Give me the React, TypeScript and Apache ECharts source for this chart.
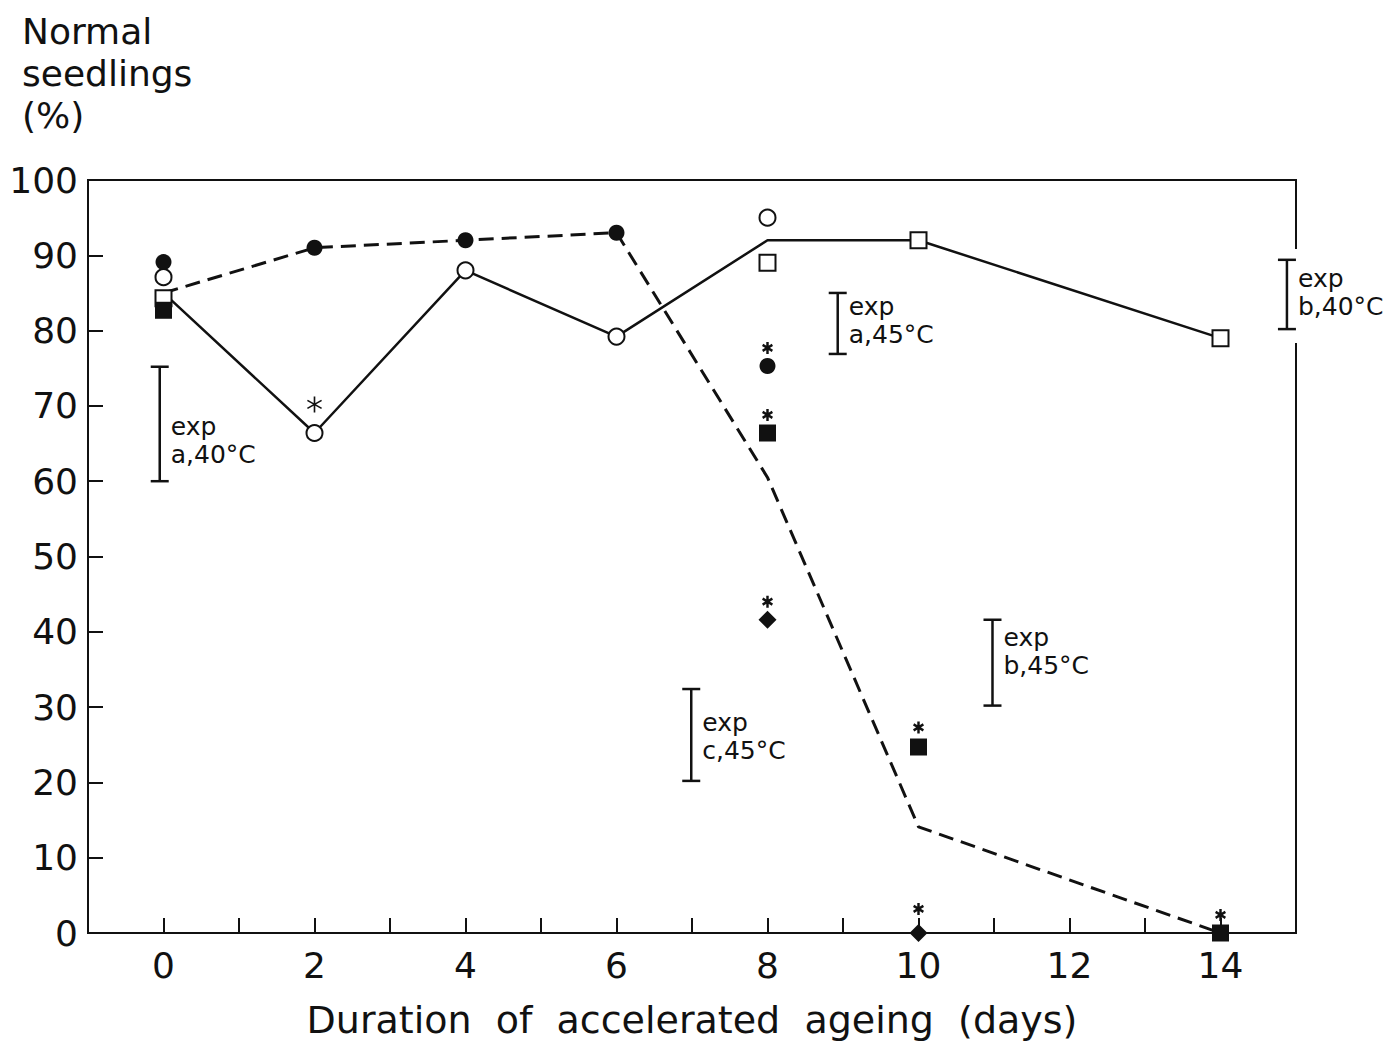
import React, { useEffect, useRef } from "react";
import * as echarts from "echarts";

// ---- data ----
const lineDays = [0, 2, 4, 6, 8, 10, 14];
const solidLineValues = [85, 66.4, 88, 79.2, 92, 92, 79];
const dashedLineValues = [85, 91, 92, 93, 60.5, 14.1, 0];

const filledCircles = [[0, 89.1], [2, 91], [4, 92], [6, 93], [8, 75.3]];
const openCircles = [[0, 87.1], [2, 66.4], [4, 88], [6, 79.2], [8, 95]];
const openSquares = [[0, 84.3], [8, 89], [10, 92], [14, 79]];
const filledSquares = [[0, 82.7], [8, 66.4], [10, 24.7], [14, 0]];
const filledDiamonds = [[8, 41.6], [10, 0]];
const asterisksThin = [[2, 70.2]];
const asterisksBold = [[8, 77.7], [8, 68.8], [8, 44], [10, 27.3], [10, 3.2], [14, 2.4]];

// variability bars: [x, low, high, textCentreY]
const expBarLabels = ["exp\na,40°C", "exp\na,45°C", "exp\nb,40°C", "exp\nb,45°C", "exp\nc,45°C"];
const expBars = [
  [-0.05, 60, 75.2, 65.4],
  [8.93, 76.9, 85, 81.4],
  [14.88, 80.2, 89.4, 85],
  [10.98, 30.2, 41.6, 37.4],
  [6.99, 20.2, 32.4, 26.1],
];

const xTickLabels = ["0", "2", "4", "6", "8", "10", "12", "14"];
const yTitle = "Normal\nseedlings\n(%)";
const xTitle = "Duration  of  accelerated  ageing  (days)";

const FONT = '"DejaVu Sans", sans-serif';
const INK = "#111";

const asteriskBoldPath =
  "path://M-1.3,-6L1.3,-6L1.3,6L-1.3,6Z M4.546,-4.126L5.846,-1.874L-4.546,4.126L-5.846,1.874Z M-5.846,-1.874L-4.546,-4.126L5.846,1.874L4.546,4.126Z";
const asteriskThinPath =
  "path://M-0.6,-6L0.6,-6L0.6,6L-0.6,6Z M4.896,-3.52L5.496,-2.48L-4.896,3.52L-5.496,2.48Z M-5.496,-2.48L-4.896,-3.52L5.496,2.48L4.896,3.52Z";

export default function App() {
  const ref = useRef<HTMLDivElement>(null);

  useEffect(() => {
    if (!ref.current) return;
    const chart = echarts.init(ref.current, undefined, { renderer: "svg" });

    const scatter = (data: number[][], symbol: string, size: any, style: any, z = 3) => ({
      type: "scatter",
      data,
      symbol,
      symbolSize: size,
      itemStyle: { opacity: 1, ...style },
      z,
      silent: true,
    });

    chart.setOption({
      animation: false,
      backgroundColor: "#fff",
      textStyle: { fontFamily: FONT },
      grid: {
        left: 88,
        right: 94,
        top: 180,
        bottom: 110,
        show: true,
        borderColor: INK,
        borderWidth: 2,
        backgroundColor: "transparent",
      },
      xAxis: {
        type: "value",
        min: -1,
        max: 15,
        interval: 1,
        axisLine: { show: true, onZero: false, lineStyle: { color: INK, width: 2 } },
        axisTick: { show: true, inside: true, length: 15, lineStyle: { color: INK, width: 2 } },
        splitLine: { show: false },
        axisLabel: {
          show: true,
          margin: 14,
          fontSize: 36,
          fontFamily: FONT,
          color: INK,
          showMinLabel: true,
          showMaxLabel: true,
          formatter: (v: number) => {
            const s = String(v);
            return xTickLabels.includes(s) ? s : "";
          },
        },
        name: xTitle,
        nameLocation: "middle",
        nameGap: 68,
        nameTextStyle: { fontSize: 38, fontFamily: FONT, color: INK },
      },
      yAxis: {
        type: "value",
        min: 0,
        max: 100,
        interval: 10,
        axisLine: { show: true, onZero: false, lineStyle: { color: INK, width: 2 } },
        axisTick: { show: true, inside: true, length: 15, lineStyle: { color: INK, width: 2 } },
        splitLine: { show: false },
        axisLabel: { margin: 10, fontSize: 36, fontFamily: FONT, color: INK },
      },
      graphic: [
        {
          type: "text",
          left: 22,
          top: 10,
          style: {
            text: yTitle,
            fontSize: 36,
            fontFamily: FONT,
            lineHeight: 42,
            fill: INK,
          },
        },
        {
          type: "rect",
          z: 1,
          shape: { x: 1290, y: 249, width: 14, height: 94 },
          style: { fill: "#fff" },
        },
      ],
      series: [
        {
          type: "line",
          data: lineDays.map((d, i) => [d, solidLineValues[i]]),
          showSymbol: false,
          lineStyle: { color: INK, width: 2.5, type: "solid" },
          z: 2,
          silent: true,
        },
        {
          type: "line",
          data: lineDays.map((d, i) => [d, dashedLineValues[i]]),
          showSymbol: false,
          lineStyle: { color: INK, width: 3, type: [15, 8] },
          z: 2,
          silent: true,
        },
        scatter(openCircles, "circle", 16, { color: "#fff", borderColor: INK, borderWidth: 2 }),
        scatter(openSquares, "rect", 16, { color: "#fff", borderColor: INK, borderWidth: 2 }),
        scatter(filledCircles, "circle", 16, { color: INK }, 4),
        scatter(filledSquares, "rect", 17, { color: INK }, 4),
        scatter(filledDiamonds, "diamond", 18, { color: INK }, 4),
        scatter(asterisksThin, asteriskThinPath, [15, 16], { color: INK }, 4),
        scatter(asterisksBold, asteriskBoldPath, [11, 12], { color: INK }, 4),
        {
          type: "custom",
          clip: false,
          z: 5,
          silent: true,
          data: expBars,
          renderItem: (params: any, api: any) => {
            const x = api.value(0);
            const lo = api.coord([x, api.value(1)]);
            const hi = api.coord([x, api.value(2)]);
            const t = api.coord([x, api.value(3)]);
            const cap = 9;
            const ls = { stroke: INK, lineWidth: 2.5 };
            return {
              type: "group",
              children: [
                { type: "line", shape: { x1: lo[0], y1: lo[1], x2: hi[0], y2: hi[1] }, style: ls },
                { type: "line", shape: { x1: lo[0] - cap, y1: lo[1], x2: lo[0] + cap, y2: lo[1] }, style: ls },
                { type: "line", shape: { x1: hi[0] - cap, y1: hi[1], x2: hi[0] + cap, y2: hi[1] }, style: ls },
                {
                  type: "text",
                  x: lo[0] + 11,
                  y: t[1],
                  style: {
                    text: expBarLabels[params.dataIndex],
                    fontSize: 25,
                    fontFamily: FONT,
                    lineHeight: 28,
                    fill: INK,
                    align: "left",
                    verticalAlign: "middle",
                  },
                },
              ],
            };
          },
        },
      ],
    });

    return () => chart.dispose();
  }, []);

  return (
    <div
      ref={ref}
      style={{ position: "fixed", left: 0, top: 0, width: 1390, height: 1044, background: "#fff" }}
    />
  );
}
